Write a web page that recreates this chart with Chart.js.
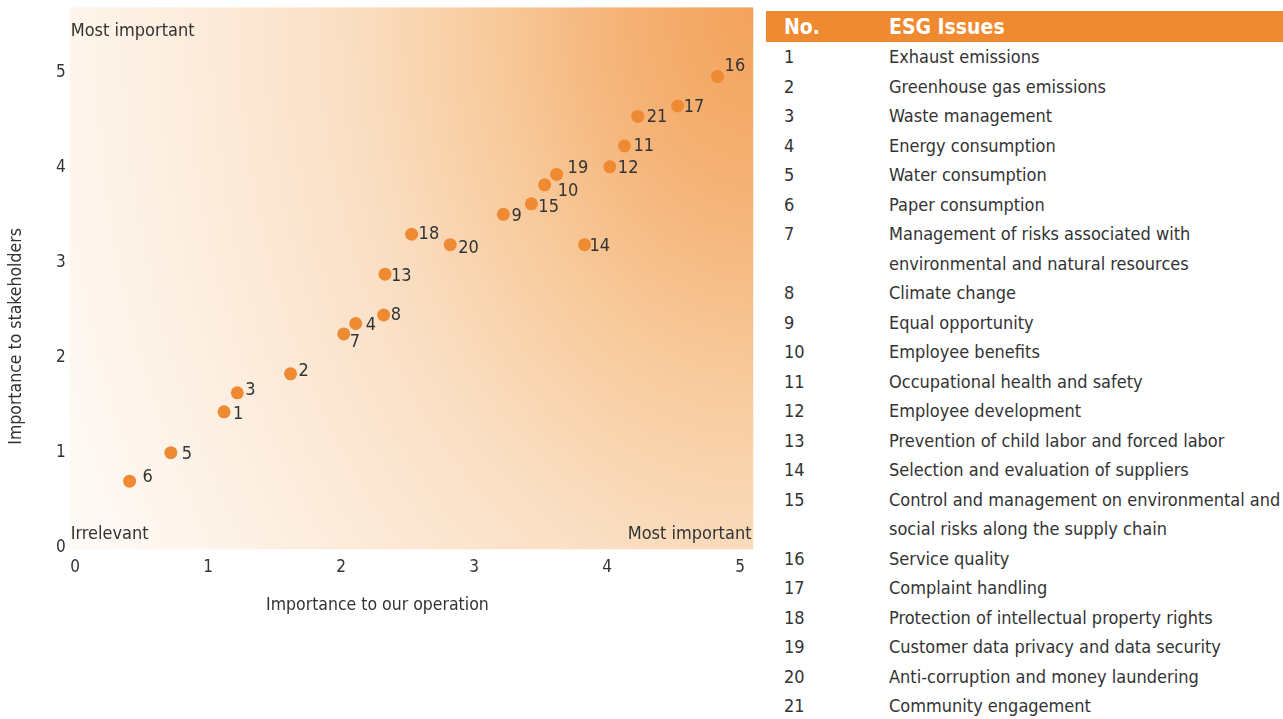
<!DOCTYPE html>
<html>
<head>
<meta charset="utf-8">
<script src="https://cdn.jsdelivr.net/npm/chart.js@4.4.1/dist/chart.umd.min.js"></script>
<style>
  body { margin: 0; background: #fff; font-family: "DejaVu Sans Condensed", "Liberation Sans Narrow", sans-serif; overflow: hidden; }
  #wrap { position: absolute; left: 0; top: -7px; width: 760px; height: 726px; }
  #table { position: absolute; left: 766px; top: 11px; width: 517px; color: #333; font-size: 18px; }
  #table .head { position: relative; background: #F08A30; color: #fff; font-weight: bold; height: 31px; line-height: 32px; font-size: 21px; }
  #table .row { position: relative; line-height: 29.5px; white-space: pre; }
  #table .no { position: absolute; left: 18px; top: 0; }
  #table .txt { margin-left: 123px; }
</style>
</head>
<body>
<div id="wrap"><canvas id="matrixChart"></canvas></div>
<div id="table"></div>
<script>
// Materiality data
const issueNo = [1, 2, 3, 4, 5, 6, 7, 8, 9, 10, 11, 12, 13, 14, 15, 16, 17, 18, 19, 20, 21];
const operationScore = [1.12, 1.62, 1.22, 2.11, 0.72, 0.41, 2.02, 2.32, 3.22, 3.53, 4.13, 4.02, 2.33, 3.83, 3.43, 4.83, 4.53, 2.53, 3.62, 2.82, 4.23];
const stakeholderScore = [1.43, 1.83, 1.63, 2.36, 1.0, 0.7, 2.25, 2.45, 3.51, 3.82, 4.23, 4.01, 2.88, 3.19, 3.62, 4.96, 4.65, 3.3, 3.93, 3.19, 4.54];
const tickValues = [0, 1, 2, 3, 4, 5];
const issueNames = [
    'Exhaust emissions',
    'Greenhouse gas emissions',
    'Waste management',
    'Energy consumption',
    'Water consumption',
    'Paper consumption',
    'Management of risks associated with\nenvironmental and natural resources',
    'Climate change',
    'Equal opportunity',
    'Employee benefits',
    'Occupational health and safety',
    'Employee development',
    'Prevention of child labor and forced labor',
    'Selection and evaluation of suppliers',
    'Control and management on environmental and\nsocial risks along the supply chain',
    'Service quality',
    'Complaint handling',
    'Protection of intellectual property rights',
    'Customer data privacy and data security',
    'Anti-corruption and money laundering',
    'Community engagement'
];

const FONT = '"DejaVu Sans Condensed", "Liberation Sans Narrow", sans-serif';
const TEXT = '#333';

// Table on the right
const table = document.getElementById('table');
let html = '<div class="head"><span style="position:absolute;left:18px">No.</span><span style="position:absolute;left:123px">ESG Issues</span></div>';
issueNo.forEach((n, i) => {
    html += '<div class="row"><span class="no">' + n + '</span><div class="txt">' + issueNames[i] + '</div></div>';
});
table.innerHTML = html;

// label nudges (px) so numbers sit like the original
const labelOffset = {
    1: [9, 2], 2: [8, -3], 3: [8, -3], 4: [10, 2], 5: [11, 2], 6: [13, -4], 7: [6, 8],
    8: [7, 0], 9: [8, 2], 10: [13, 6], 11: [9, 0], 12: [8, 2], 13: [6, 2], 14: [5, 2],
    15: [7, 3], 16: [7, -10], 17: [6, 1], 18: [7, 0], 19: [11, -6], 20: [8, 4], 21: [9, 1]
};

const backdrop = {
    id: 'backdrop',
    beforeDraw(chart) {
        const { ctx, chartArea: a } = chart;
        const w = a.right - a.left, h = a.bottom - a.top;
        const rx = w, ry = h * 1.8;
        ctx.save();
        ctx.beginPath();
        ctx.rect(a.left, a.top, w, h);
        ctx.clip();
        ctx.translate(a.right, a.top);
        ctx.scale(1, ry / rx);
        const g = ctx.createRadialGradient(0, 0, 0, 0, 0, rx * 1.1);
        g.addColorStop(0, '#F3A25A');
        g.addColorStop(0.2 / 1.1, '#F5B377');
        g.addColorStop(0.4 / 1.1, '#F8CC9F');
        g.addColorStop(0.6 / 1.1, '#FADFC4');
        g.addColorStop(0.8 / 1.1, '#FCEBDA');
        g.addColorStop(1.0 / 1.1, '#FEF5EC');
        g.addColorStop(1, '#FEF9F5');
        ctx.fillStyle = g;
        ctx.fillRect(-w, 0, w, h * rx / ry);
        ctx.restore();

        ctx.save();
        ctx.fillStyle = TEXT;
        ctx.font = '18px ' + FONT;
        ctx.textBaseline = 'middle';
        ctx.textAlign = 'left';
        ctx.fillText('Most important', a.left + 1, a.top + 24);
        ctx.fillText('Irrelevant', a.left + 1, a.bottom - 15);
        ctx.textAlign = 'right';
        ctx.fillText('Most important', a.right - 2, a.bottom - 15);
        ctx.restore();
    },
    afterDraw(chart) {
        // axis titles sit off-centre in the original, so draw them here
        const { ctx, chartArea: a } = chart;
        const w = a.right - a.left, h = a.bottom - a.top;
        ctx.save();
        ctx.fillStyle = TEXT;
        ctx.font = '17.5px ' + FONT;
        ctx.textAlign = 'center';
        ctx.textBaseline = 'middle';
        ctx.fillText('Importance to our operation', a.left + 0.45 * w, a.bottom + 56);
        ctx.translate(a.left - 53, a.top + 0.607 * h);
        ctx.rotate(-Math.PI / 2);
        ctx.fillText('Importance to stakeholders', 0, 0);
        ctx.restore();
    }
};

const pointLabels = {
    id: 'pointLabels',
    afterDatasetsDraw(chart) {
        const { ctx } = chart;
        const meta = chart.getDatasetMeta(0);
        ctx.save();
        ctx.fillStyle = TEXT;
        ctx.font = '18px ' + FONT;
        ctx.textBaseline = 'middle';
        ctx.textAlign = 'left';
        meta.data.forEach((pt, i) => {
            const n = issueNo[i];
            const off = labelOffset[n] || [7, 0];
            ctx.fillText(String(n), pt.x + off[0], pt.y + off[1]);
        });
        ctx.restore();
    }
};

const ctxMatrix = document.getElementById('matrixChart').getContext('2d');
const matrixChart = new Chart(ctxMatrix, {
    type: 'scatter',
    data: {
        datasets: [{
            label: 'ESG Issues',
            data: issueNo.map((n, i) => ({ x: operationScore[i], y: stakeholderScore[i] })),
            backgroundColor: '#EE8A32',
            borderWidth: 0,
            pointRadius: 6.5,
            pointHoverRadius: 6.5
        }]
    },
    options: {
        responsive: true,
        maintainAspectRatio: false,
        animation: false,
        layout: { padding: { top: 0, right: 5, bottom: 133, left: 52 } },
        plugins: { legend: { display: false }, tooltip: { enabled: false } },
        scales: {
            x: {
                min: -0.04, max: 5.1,
                afterBuildTicks: s => { s.ticks = tickValues.map(v => ({ value: v })); },
                grid: { display: false, drawTicks: false }, border: { display: false },
                ticks: { color: TEXT, font: { family: FONT, size: 17 }, padding: 8, maxRotation: 0 }
            },
            y: {
                min: -0.02, max: 5.69,
                afterBuildTicks: s => { s.ticks = tickValues.map(v => ({ value: v })); },
                grid: { display: false, drawTicks: false }, border: { display: false },
                ticks: { color: TEXT, font: { family: FONT, size: 17 }, padding: 4 }
            }
        }
    },
    plugins: [backdrop, pointLabels]
});
</script>
</body>
</html>
